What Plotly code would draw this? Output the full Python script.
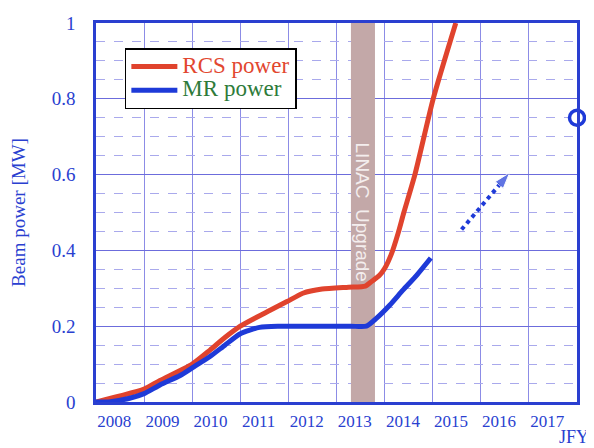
import plotly.graph_objects as go

# ---- data ----
rcs_x = [2008, 2008.5, 2009, 2009.33, 2010, 2010.37, 2010.68, 2011, 2011.62, 2011.97, 2012.3, 2012.7,
         2013.25, 2013.6, 2013.73, 2013.9, 2014.0, 2014.14, 2014.28, 2014.4, 2014.63, 2015.01, 2015.48]
rcs_y = [0, 0.016, 0.034, 0.057, 0.10, 0.137, 0.17, 0.20, 0.242, 0.265, 0.287, 0.298,
         0.303, 0.306, 0.318, 0.335, 0.352, 0.39, 0.445, 0.50, 0.60, 0.80, 1.0]
mr_x = [2008, 2008.3, 2008.7, 2009, 2009.33, 2009.75, 2010, 2010.37, 2010.68, 2011, 2011.4, 2011.8,
        2012.5, 2013.3, 2013.62, 2013.84, 2014.11, 2014.38, 2014.67, 2014.96]
mr_y = [0, 0.001, 0.01, 0.022, 0.045, 0.07, 0.09, 0.12, 0.15, 0.18, 0.197, 0.2,
        0.2, 0.2, 0.2, 0.222, 0.256, 0.295, 0.335, 0.38]
arrow_x = [2015.6, 2016.6]
arrow_y = [0.455, 0.605]
target_x = [2018]
target_y = [0.75]
linac = [2013.3, 2013.8]
years = [2008, 2009, 2010, 2011, 2012, 2013, 2014, 2015, 2016, 2017]
year_labels = [str(y) for y in years]
y_ticks = [0, 0.2, 0.4, 0.6, 0.8, 1]
y_labels = ["0", "0.2", "0.4", "0.6", "0.8", "1"]

AX = "#2a3fd0"
SERIF = "Liberation Serif"

fig = go.Figure()
fig.add_trace(go.Scatter(x=rcs_x, y=rcs_y, mode="lines",
                         name='<span style="color:#e2472f;font-size:23px">RCS power</span>',
                         line=dict(color="#e0432d", width=5, shape="spline", smoothing=0.6), hoverinfo="skip"))
fig.add_trace(go.Scatter(x=mr_x, y=mr_y, mode="lines",
                         name='<span style="color:#2e7b3a;font-size:23px">MR power</span>',
                         line=dict(color="#1e3ad8", width=5, shape="spline", smoothing=0.6), hoverinfo="skip"))
fig.add_trace(go.Scatter(x=arrow_x, y=arrow_y, mode="lines+markers", showlegend=False,
                         line=dict(color="#1e3ad8", width=4, dash="dot"),
                         marker=dict(symbol="arrow", size=[0, 17], angleref="previous", color="#1e3ad8"),
                         hoverinfo="skip"))
fig.add_trace(go.Scatter(x=target_x, y=target_y, mode="markers", showlegend=False, cliponaxis=False,
                         marker=dict(symbol="circle", size=15, color="white", line=dict(color="#1e3ad8", width=3.5)),
                         hoverinfo="skip"))

fig.add_shape(type="rect", x0=linac[0], x1=linac[1], y0=0, y1=1, xref="x", yref="y",
              fillcolor="#c3a8a8", line=dict(width=0), layer="between")
fig.add_annotation(x=sum(linac) / 2, y=0.5, xref="x", yref="y", text="LINAC  Upgrade", textangle=90,
                   showarrow=False, font=dict(family="Liberation Sans", size=19, color="#f4eeee"))
fig.add_annotation(x=0.958, y=-0.062, xref="paper", yref="paper", text="JFY", showarrow=False,
                   xanchor="left", yanchor="top", font=dict(family=SERIF, size=18, color=AX))

fig.update_layout(
    width=586, height=440,
    margin=dict(l=88, r=17, t=15, b=46),
    paper_bgcolor="white", plot_bgcolor="white",
    showlegend=True,
    legend=dict(x=0.06, y=0.934, xanchor="left", yanchor="top", bgcolor="white",
                bordercolor="black", borderwidth=1.5, tracegroupgap=0,
                font=dict(family=SERIF, size=16, color="#e2472f"), itemwidth=46),
    xaxis=dict(range=[2008, 2018], tickmode="array", tickvals=[y + 0.38 for y in years], ticktext=year_labels,
               showgrid=False, showline=True, mirror=True, linecolor=AX, linewidth=2.5, zeroline=False,
               automargin=False,
               ticks="", ticklabelstandoff=2, tickfont=dict(family=SERIF, size=17, color=AX),
               minor=dict(tickmode="array", tickvals=list(range(2009, 2018)), showgrid=True,
                          gridcolor="#8c8ce6", gridwidth=1, ticks="")),
    yaxis=dict(range=[0, 1], tickmode="array", tickvals=y_ticks, ticktext=y_labels,
               showgrid=True, gridcolor="#6c6cdc", gridwidth=1.2, zeroline=False, automargin=False,
               showline=True, mirror=True, linecolor=AX, linewidth=2.5, ticks="", ticklabelstandoff=14,
               tickfont=dict(family=SERIF, size=19, color=AX),
               title=dict(text="Beam power [MW]", font=dict(family=SERIF, size=19, color=AX), standoff=22),
               minor=dict(dtick=0.05, tick0=0, showgrid=True, gridcolor="#a9a9ec", griddash="dash", gridwidth=1)),
)
fig.write_html("out.html")
